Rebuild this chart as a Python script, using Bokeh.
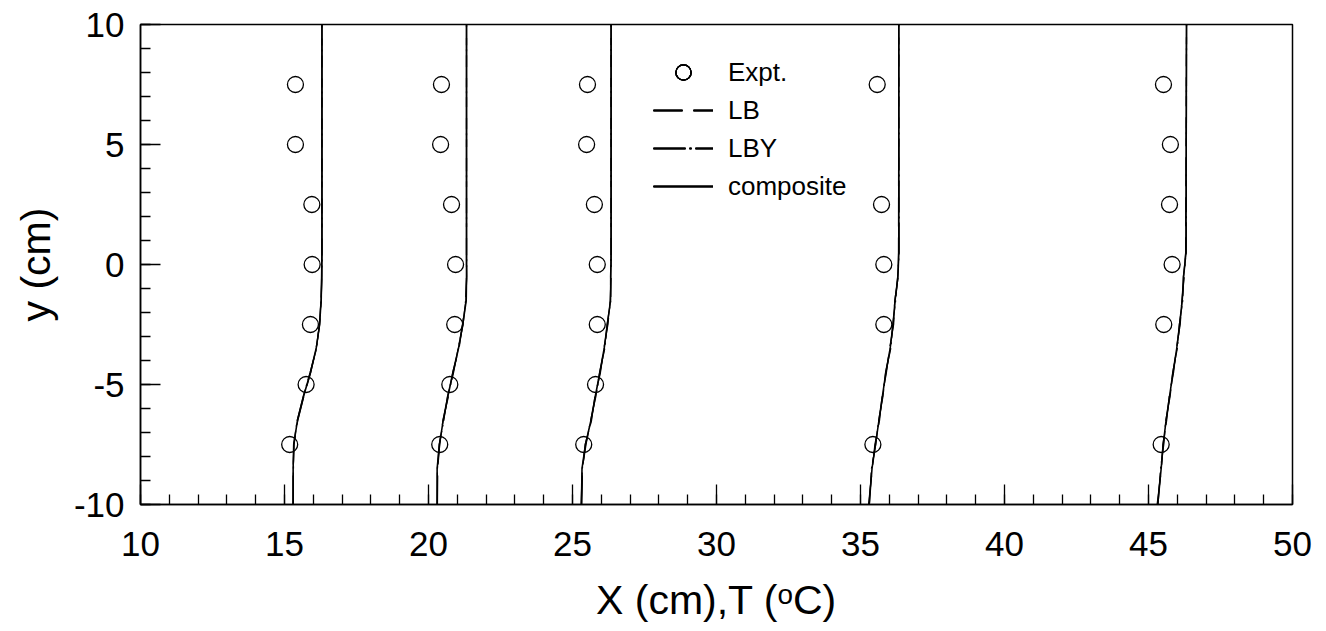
from bokeh.plotting import figure
from bokeh.models import Range1d, FixedTicker, Legend, LegendItem
from bokeh.embed import file_html
from bokeh.resources import INLINE

# ---- data ----
X_MAJOR = [10, 15, 20, 25, 30, 35, 40, 45, 50]
Y_MAJOR = [-10, -5, 0, 5, 10]
Y_LABELS = {-10: "-10", -5: "-5", 0: "0", 5: "5", 10: "10"}

Y_MODEL = [-10, -8.5, -7.5, -6.5, -5.5, -4.5, -3.5, -2.5, -1.5, -0.5, 0.5, 10]

COMP_1 = [15.30, 15.30, 15.32, 15.45, 15.66, 15.90, 16.10, 16.22, 16.27, 16.29, 16.30, 16.30]
COMP_2 = [20.30, 20.30, 20.38, 20.51, 20.67, 20.85, 21.04, 21.19, 21.31, 21.32, 21.32, 21.32]
COMP_3 = [25.31, 25.33, 25.45, 25.64, 25.79, 25.95, 26.10, 26.21, 26.32, 26.33, 26.34, 26.34]
COMP_4 = [35.30, 35.40, 35.52, 35.64, 35.76, 35.88, 36.03, 36.13, 36.20, 36.30, 36.33, 36.33]
COMP_5 = [45.32, 45.44, 45.51, 45.61, 45.73, 45.85, 45.98, 46.08, 46.17, 46.22, 46.30, 46.32]

LB_1 = [15.30, 15.30, 15.33, 15.46, 15.67, 15.91, 16.10, 16.22, 16.28, 16.29, 16.30, 16.30]
LB_2 = [20.31, 20.32, 20.39, 20.50, 20.69, 20.84, 21.06, 21.18, 21.30, 21.32, 21.32, 21.32]
LB_3 = [25.32, 25.35, 25.44, 25.66, 25.78, 25.97, 26.09, 26.23, 26.31, 26.34, 26.34, 26.34]
LB_4 = [35.28, 35.41, 35.50, 35.66, 35.75, 35.90, 36.01, 36.15, 36.19, 36.31, 36.32, 36.33]
LB_5 = [45.30, 45.45, 45.50, 45.63, 45.72, 45.87, 45.97, 46.10, 46.16, 46.24, 46.29, 46.32]

LBY_1 = [15.30, 15.31, 15.32, 15.44, 15.65, 15.89, 16.11, 16.21, 16.27, 16.30, 16.30, 16.30]
LBY_2 = [20.30, 20.31, 20.37, 20.53, 20.66, 20.87, 21.03, 21.20, 21.29, 21.33, 21.32, 21.32]
LBY_3 = [25.30, 25.34, 25.47, 25.63, 25.81, 25.94, 26.12, 26.20, 26.33, 26.32, 26.34, 26.34]
LBY_4 = [35.31, 35.38, 35.53, 35.63, 35.78, 35.87, 36.05, 36.12, 36.22, 36.29, 36.34, 36.33]
LBY_5 = [45.33, 45.42, 45.53, 45.60, 45.75, 45.84, 46.00, 46.07, 46.19, 46.21, 46.31, 46.32]

EXPT_Y_1 = [7.5, 5, 2.5, 0, -2.5, -5, -7.5]
EXPT_X_1 = [15.38, 15.38, 15.95, 15.96, 15.90, 15.75, 15.18]
EXPT_Y_2 = [7.5, 5, 2.5, 0, -2.5, -5, -7.5]
EXPT_X_2 = [20.45, 20.42, 20.80, 20.94, 20.91, 20.74, 20.39]
EXPT_Y_3 = [7.5, 5, 2.5, 0, -2.5, -5, -7.5]
EXPT_X_3 = [25.52, 25.49, 25.76, 25.86, 25.86, 25.80, 25.39]
EXPT_Y_4 = [7.5, 2.5, 0, -2.5, -7.5]
EXPT_X_4 = [35.58, 35.73, 35.81, 35.81, 35.43]
EXPT_Y_5 = [7.5, 5, 2.5, 0, -2.5, -7.5]
EXPT_X_5 = [45.52, 45.76, 45.73, 45.82, 45.53, 45.44]

FONT = "Liberation Sans"

p = figure(width=1326, height=631, output_backend="svg", toolbar_location=None,
           x_range=Range1d(10, 50), y_range=Range1d(-10, 10),
           min_border_left=140, min_border_right=34, min_border_top=24, min_border_bottom=127)
p.grid.visible = False
p.background_fill_color = "white"
p.border_fill_color = "white"
p.outline_line_color = "black"
p.outline_line_width = 1.5

p.xaxis.ticker = FixedTicker(ticks=X_MAJOR, minor_ticks=list(range(10, 51)))
p.yaxis.ticker = FixedTicker(ticks=Y_MAJOR, minor_ticks=list(range(-10, 11)))
p.yaxis.major_label_overrides = Y_LABELS
for ax in (p.xaxis[0], p.yaxis[0]):
    ax.major_tick_in = 20
    ax.major_tick_out = 0
    ax.minor_tick_in = 10
    ax.minor_tick_out = 0
    ax.axis_line_width = 1.5
    ax.major_tick_line_width = 1.3
    ax.minor_tick_line_width = 1.3
    ax.major_label_text_font = FONT
    ax.major_label_text_font_size = "35px"
    ax.major_label_text_color = "black"
    ax.axis_label_text_font = FONT
    ax.axis_label_text_font_size = "41px"
    ax.axis_label_text_font_style = "normal"
    ax.axis_label_text_color = "black"
p.xaxis.major_label_standoff = 27
p.yaxis.major_label_standoff = 16
p.xaxis.axis_label = "X (cm),T (\u1d52C)"
p.yaxis.axis_label = "y (cm)"
p.xaxis.axis_label_standoff = 18
p.yaxis.axis_label_standoff = 12

comps = [COMP_1, COMP_2, COMP_3, COMP_4, COMP_5]
lbs = [LB_1, LB_2, LB_3, LB_4, LB_5]
lbys = [LBY_1, LBY_2, LBY_3, LBY_4, LBY_5]
exps = [(EXPT_X_1, EXPT_Y_1), (EXPT_X_2, EXPT_Y_2), (EXPT_X_3, EXPT_Y_3),
        (EXPT_X_4, EXPT_Y_4), (EXPT_X_5, EXPT_Y_5)]

r_lb, r_lby, r_comp, r_exp = [], [], [], []
for xs in lbs:
    r_lb.append(p.line(xs, Y_MODEL, line_color="black", line_width=1.3, line_dash="29 11"))
for xs in lbys:
    r_lby.append(p.line(xs, Y_MODEL, line_color="black", line_width=1.3, line_dash="32 4 2 4"))
for xs in comps:
    r_comp.append(p.line(xs, Y_MODEL, line_color="black", line_width=1.6))
for xs, ys in exps:
    r_exp.append(p.scatter(xs, ys, marker="circle", size=16, fill_color=None,
                           line_color="black", line_width=1.3))

legend = Legend(items=[LegendItem(label="Expt.", renderers=r_exp),
                       LegendItem(label="LB", renderers=r_lb),
                       LegendItem(label="LBY", renderers=r_lby),
                       LegendItem(label="composite", renderers=r_comp)],
                location=(513, 299))
legend.background_fill_alpha = 0
legend.border_line_alpha = 0
legend.padding = 0
legend.margin = 0
legend.spacing = 0
legend.glyph_width = 60
legend.glyph_height = 38
legend.label_height = 38
legend.label_standoff = 15
legend.label_text_font = FONT
legend.label_text_font_size = "26px"
legend.label_text_color = "black"
p.add_layout(legend)

open("out.html", "w").write(file_html(p, INLINE))
